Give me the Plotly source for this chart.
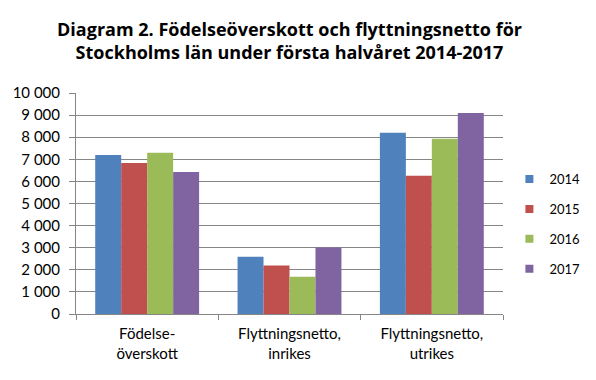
import plotly.graph_objects as go

categories = ["Födelse-<br>överskott", "Flyttningsnetto,<br>inrikes", "Flyttningsnetto,<br>utrikes"]
years = ["2014", "2015", "2016", "2017"]
v2014 = [7200, 2590, 8200]
v2015 = [6830, 2190, 6260]
v2016 = [7300, 1690, 7930]
v2017 = [6430, 3010, 9090]
series = [v2014, v2015, v2016, v2017]
colors = ["#4F81BD", "#C0504D", "#9BBB59", "#8064A2"]

fig = go.Figure()
for i, (y, vals) in enumerate(zip(years, series)):
    fig.add_trace(go.Bar(x=categories, y=vals, name=y, marker_color=colors[i],
                         marker_line_width=0, showlegend=False))
# legend entries with small square swatches
for i, y in enumerate(years):
    fig.add_trace(go.Scatter(x=[None], y=[None], mode="markers", name=y,
                             marker=dict(symbol="square", size=8, color=colors[i]),
                             legendgroup=y, showlegend=True))

font = "Lato, 'Open Sans', sans-serif"
W, H = 588, 372
fig.update_layout(
    width=W, height=H,
    paper_bgcolor="white", plot_bgcolor="white",
    margin=dict(l=68, r=93, t=85, b=66, autoexpand=False),
    barmode="group", bargap=0.27, bargroupgap=0,
    separators=", ",
    title=dict(text="<b>Diagram 2. Födelseöverskott och flyttningsnetto för<br>Stockholms län under första halvåret 2014-2017</b>",
               x=0.5, xanchor="center", xref="paper", yref="container",
               y=1 - 28 / H, yanchor="middle",
               font=dict(family="'Open Sans', sans-serif", size=18, color="black")),
    font=dict(family=font, size=15, color="black"),
    legend=dict(x=1.015, y=0.407, yanchor="middle", xanchor="left",
                font=dict(size=13), tracegroupgap=10, itemwidth=30,
                bgcolor="rgba(0,0,0,0)"),
    showlegend=True,
)
fig.update_xaxes(showline=True, linecolor="#868686", linewidth=1,
                 ticks="outside", tickson="boundaries", ticklen=5, tickcolor="#868686",
                 ticklabelstandoff=6, tickfont=dict(size=15))
fig.update_yaxes(range=[0, 10000], dtick=1000, tickformat=",d",
                 showgrid=True, gridcolor="#868686", gridwidth=1,
                 showline=True, linecolor="#868686", linewidth=1,
                 ticks="outside", ticklen=6, tickcolor="#868686",
                 ticklabelstandoff=6,
                 zeroline=False, tickfont=dict(size=15))

fig.write_html("out.html")
